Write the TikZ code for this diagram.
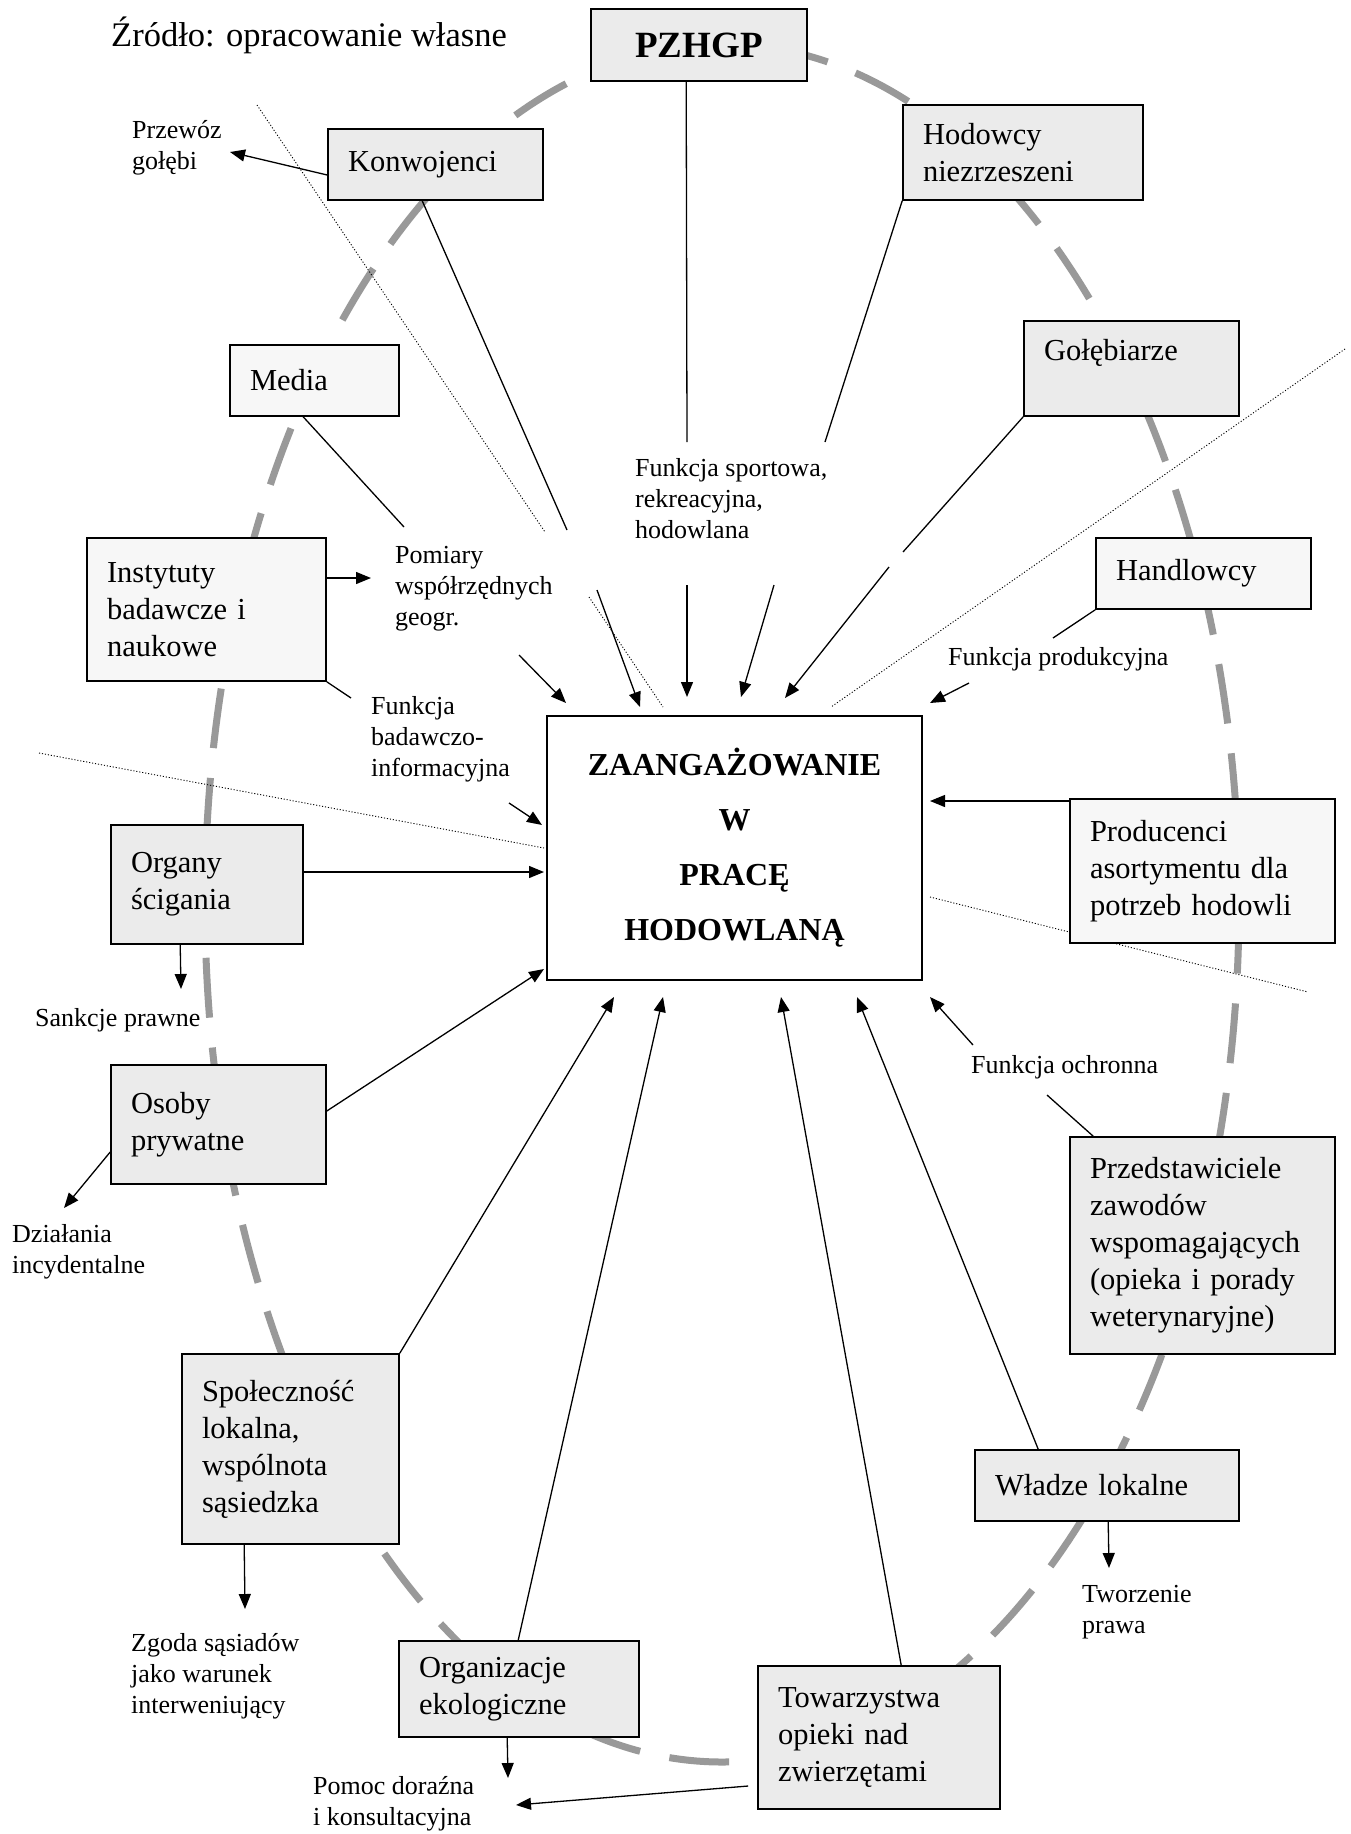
\documentclass[tikz,border=0pt]{standalone}
\usepackage{fontspec}
\setmainfont{Liberation Serif}
\usetikzlibrary{arrows.meta}
\hyphenpenalty=10000
\exhyphenpenalty=10000
\begin{document}
\begin{tikzpicture}[x=1pt,y=-1pt,
  box/.style={draw=black,line width=1.6pt,fill=gray!16,inner xsep=20pt,inner ysep=0pt,align=left,
    font=\fontsize{30.5}{37}\selectfont},
  lbox/.style={box,fill=gray!6},
  lab/.style={inner sep=0pt,anchor=west,align=left,font=\fontsize{26}{31}\selectfont},
  con/.style={line width=1.3pt},
  arr/.style={con,-{Triangle[length=15pt,width=12pt]}},
  dotln/.style={line width=0.9pt,dash pattern=on 1.1pt off 1.9pt},
  ring/.style={line width=7pt,draw=black!40,dash pattern=on 60pt off 30pt}
]
\useasboundingbox (0,0) rectangle (1350,1834);
\fill[white] (0,0) rectangle (1350,1834);

% dashed ring
\draw[ring] (722,903) ellipse [x radius=517pt, y radius=859pt];

% dotted separators
\coordinate (da1) at (257,105); \coordinate (da2) at (545,532);
\coordinate (da3) at (589,597); \coordinate (da4) at (663,707);
\coordinate (db1) at (1345,349); \coordinate (db2) at (831,707);
\coordinate (dc1) at (39,753); \coordinate (dc2) at (544,848);
\coordinate (dd1) at (930,897); \coordinate (dd2) at (1308,992);
\draw[dotln] (da1) -- (da2);
\draw[dotln] (da3) -- (da4);
\draw[dotln] (db1) -- (db2);
\draw[dotln] (dc1) -- (dc2);
\draw[dotln] (dd1) -- (dd2);

% boxes
\node[box,text width=176pt,minimum height=72pt,align=center,font=\bfseries\fontsize{37}{44}\selectfont] (pz) at (699,45) {PZHGP};
\node[box,text width=175pt,minimum height=71pt] (kon) at (435.5,164.5) {Konwojenci};
\node[box,text width=200pt,minimum height=95pt] (hod) at (1023,152.5) {Hodowcy\\niezrzeszeni};
\node[box,text width=175pt,minimum height=95pt] (gol) at (1131.5,368.5) {Gołębiarze\\\mbox{}};
\node[lbox,text width=129pt,minimum height=71pt] (med) at (314.5,380.5) {Media};
\node[lbox,text width=199pt,minimum height=143pt] (ins) at (206.5,609.5) {Instytuty\\badawcze i\\naukowe};
\node[lbox,text width=175pt,minimum height=71pt] (han) at (1203.5,573.5) {Handlowcy};
\node[box,fill=white,text width=335pt,minimum height=264pt,align=center,font=\bfseries\fontsize{32}{55}\selectfont] (cen) at (734.5,848) {ZAANGAŻOWANIE\\W\\PRACĘ\\HODOWLANĄ};
\node[box,text width=152pt,minimum height=119pt] (org) at (207,884.5) {Organy\\ścigania};
\node[lbox,text width=225pt,minimum height=144pt] (pro) at (1202.5,871) {Producenci\\asortymentu dla\\potrzeb hodowli};
\node[box,text width=175pt,minimum height=119pt] (osb) at (218.5,1124.5) {Osoby\\prywatne};
\node[box,text width=225pt,minimum height=217pt] (prz) at (1202.5,1245.5) {Przedstawiciele\\zawodów\\wspomagających\\(opieka i porady\\weterynaryjne)};
\node[box,text width=177pt,minimum height=190pt] (spo) at (290.5,1449) {Społeczność\\lokalna,\\wspólnota\\sąsiedzka};
\node[box,text width=224pt,minimum height=71pt] (wla) at (1107,1485.5) {Władze lokalne};
\node[box,text width=200pt,minimum height=96pt] (orz) at (519,1689) {Organizacje\\ekologiczne};
\node[box,text width=202pt,minimum height=143pt] (tow) at (879,1737.5) {Towarzystwa\\opieki nad\\zwierzętami};

% labels
\node[lab,font=\fontsize{34.5}{40}\selectfont] (src) at (111,35) {Źródło: opracowanie własne};
\node[lab] (prze) at (132,148) {Przewóz\\gołębi};
\node[lab] (fsp) at (635,499) {Funkcja sportowa,\\rekreacyjna,\\hodowlana};
\node[lab] (pom) at (395,589) {Pomiary\\współrzędnych\\geogr.};
\node[lab] (fba) at (371,739) {Funkcja\\badawczo-\\informacyjna};
\node[lab] (fpr) at (948,659) {Funkcja produkcyjna};
\node[lab] (san) at (35,1020) {Sankcje prawne};
\node[lab] (foc) at (971,1067) {Funkcja ochronna};
\node[lab] (dzi) at (12,1252) {Działania\\incydentalne};
\node[lab] (twp) at (1082,1612) {Tworzenie\\prawa};
\node[lab] (zgo) at (131,1676) {Zgoda sąsiadów\\jako warunek\\interweniujący};
\node[lab] (pdk) at (313,1804) {Pomoc doraźna\\i konsultacyjna};

% free ends of connectors
\coordinate (c1a) at (687,442); \coordinate (c1b) at (687,585); \coordinate (c1c) at (687,697);
\coordinate (c2a) at (825,442); \coordinate (c2b) at (774,585); \coordinate (c2c) at (741,697);
\coordinate (c3a) at (903,552); \coordinate (c3b) at (889,567); \coordinate (c3c) at (785,698);
\coordinate (c4a) at (567,530); \coordinate (c4b) at (597,590); \coordinate (c4c) at (640,707);
\coordinate (c5a) at (404,527); \coordinate (c5b) at (519,655); \coordinate (c5c) at (566,703);
\coordinate (c6a) at (371,578); \coordinate (c6b) at (351,698); \coordinate (c6c) at (509,803); \coordinate (c6d) at (542,825);
\coordinate (c7a) at (544,872); \coordinate (c7b) at (181,989);
\coordinate (c8a) at (544,969); \coordinate (c8b) at (64,1208);
\coordinate (c9a) at (614,997); \coordinate (c9b) at (245,1609);
\coordinate (c10a) at (663,997); \coordinate (c10b) at (508,1778);
\coordinate (c11a) at (781,997); \coordinate (c11b) at (516,1805);
\coordinate (c12a) at (857,997); \coordinate (c12b) at (1109,1568);
\coordinate (c13a) at (1047,1095); \coordinate (c13b) at (973,1045); \coordinate (c13c) at (930,997);
\coordinate (c14a) at (930,801);
\coordinate (c15a) at (1053,638); \coordinate (c15b) at (969,683); \coordinate (c15c) at (930,703);
\coordinate (c16a) at (230,152);

% connectors
\draw[con] ([xshift=96pt]pz.south west) -- (c1a);
\draw[arr] (c1b) -- (c1c);
\draw[con] (hod.south west) -- (c2a);
\draw[arr] (c2b) -- (c2c);
\draw[con] (gol.south west) -- (c3a);
\draw[arr] (c3b) -- (c3c);
\draw[con] ([xshift=95pt]kon.south west) -- (c4a);
\draw[arr] (c4b) -- (c4c);
\draw[con] ([xshift=74pt]med.south west) -- (c5a);
\draw[arr] (c5b) -- (c5c);
\draw[arr] ([yshift=31.5pt]ins.east) -- (c6a);
\draw[con] (ins.south east) -- (c6b);
\draw[arr] (c6c) -- (c6d);
\draw[arr] ([yshift=12.5pt]org.east) -- (c7a);
\draw[arr] ([xshift=70pt]org.south west) -- (c7b);
\draw[arr] ([yshift=13.5pt]osb.east) -- (c8a);
\draw[arr] ([yshift=-27.5pt]osb.west) -- (c8b);
\draw[arr] (spo.north east) -- (c9a);
\draw[arr] ([xshift=63pt]spo.south west) -- (c9b);
\draw[arr] ([xshift=120pt]orz.north west) -- (c10a);
\draw[arr] ([xshift=109pt]orz.south west) -- (c10b);
\draw[arr] ([xshift=144pt]tow.north west) -- (c11a);
\draw[arr] ([xshift=-9pt,yshift=-48.5pt]tow.west) -- (c11b);
\draw[arr] ([xshift=64pt]wla.north west) -- (c12a);
\draw[arr] ([xshift=134pt]wla.south west) -- (c12b);
\draw[con] ([xshift=24pt]prz.north west) -- (c13a);
\draw[arr] (c13b) -- (c13c);
\draw[arr] ([yshift=70pt]pro.west) -- (c14a);
\draw[con] (han.south west) -- (c15a);
\draw[arr] (c15b) -- (c15c);
\draw[arr] ([yshift=-10.5pt]kon.west) -- (c16a);
\end{tikzpicture}
\end{document}
